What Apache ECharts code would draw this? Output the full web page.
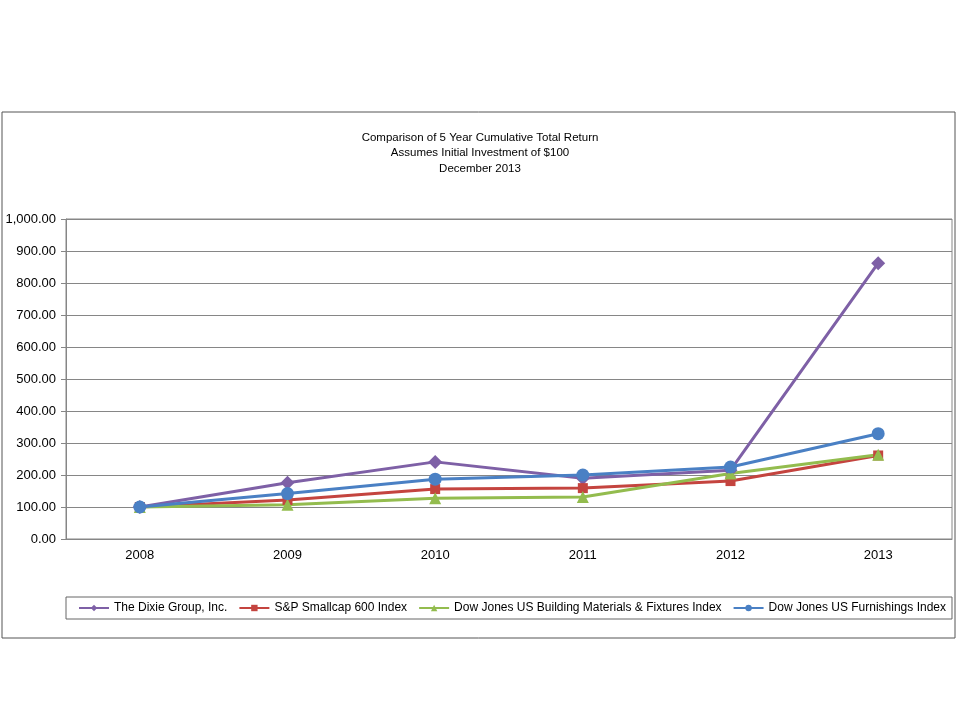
<!DOCTYPE html>
<html>
<head>
<meta charset="utf-8">
<script src="https://cdn.jsdelivr.net/npm/echarts@6/dist/echarts.min.js"></script>
<style>html,body{margin:0;padding:0;background:#fff;}#c{width:960px;height:720px;}</style>
</head>
<body>
<div id="c"></div>
<script>
const years = ['2008','2009','2010','2011','2012','2013'];
const dixie = [100, 176, 241, 190, 215, 862];
const sp600 = [100, 122, 156, 159, 181, 261];
const building = [100, 107, 127, 131, 205, 263];
const furnishings = [100, 142, 187, 200, 225, 329];
const yTicks = [0, 100, 200, 300, 400, 500, 600, 700, 800, 900, 1000];

const chart = echarts.init(document.getElementById('c'));
const font = "'Liberation Sans', Arial, sans-serif";
function mk(name, data, color, symbol, size) {
  return {
    name: name, type: 'line', data: data,
    symbol: symbol, symbolSize: size,
    lineStyle: {color: color, width: 3},
    itemStyle: {color: color},
    animation: false
  };
}
chart.setOption({
  animation: false,
  title: {
    text: 'Comparison of 5 Year Cumulative Total Return\nAssumes Initial Investment of $100\nDecember 2013',
    left: 'center', top: 125,
    textStyle: {fontFamily: font, fontSize: 11.5, fontWeight: 'normal', color: '#000', lineHeight: 15.5}
  },
  graphic: [{
    type: 'rect', shape: {x: 2, y: 112, width: 953, height: 526},
    style: {fill: 'none', stroke: '#555', lineWidth: 1}, silent: true
  }],
  legend: {
    left: 66, top: 597,
    padding: [5, 6, 5, 12],
    itemGap: 11, itemWidth: 30, itemHeight: 8,
    borderColor: '#666', borderWidth: 1,
    textStyle: {fontFamily: font, fontSize: 12, color: '#000'},
    data: ['The Dixie Group, Inc.', 'S&P Smallcap 600 Index', 'Dow Jones US Building Materials & Fixtures Index', 'Dow Jones US Furnishings Index']
  },
  grid: {left: 66, right: 8, top: 219, bottom: 181, show: true, borderColor: '#868686', borderWidth: 1},
  xAxis: {
    type: 'category', data: years, boundaryGap: true,
    axisLine: {lineStyle: {color: '#868686'}},
    axisTick: {alignWithLabel: true, length: 4, lineStyle: {color: '#868686'}},
    axisLabel: {fontFamily: font, fontSize: 13, color: '#000', margin: 10}
  },
  yAxis: {
    type: 'value', min: yTicks[0], max: yTicks[yTicks.length - 1], interval: 100,
    axisLine: {show: true, lineStyle: {color: '#868686'}},
    axisTick: {show: true, length: 5, lineStyle: {color: '#868686'}},
    splitLine: {lineStyle: {color: '#868686', width: 1}},
    axisLabel: {fontFamily: font, fontSize: 13, color: '#000', margin: 10,
      formatter: v => v.toLocaleString('en-US', {minimumFractionDigits: 2, maximumFractionDigits: 2})}
  },
  series: [
    mk('The Dixie Group, Inc.', dixie, '#7E60A6', 'diamond', 14),
    mk('S&P Smallcap 600 Index', sp600, '#C4443F', 'rect', 10),
    mk('Dow Jones US Building Materials & Fixtures Index', building, '#93BC4E', 'triangle', 12),
    mk('Dow Jones US Furnishings Index', furnishings, '#4A80C4', 'circle', 13)
  ]
});
</script>
</body>
</html>
